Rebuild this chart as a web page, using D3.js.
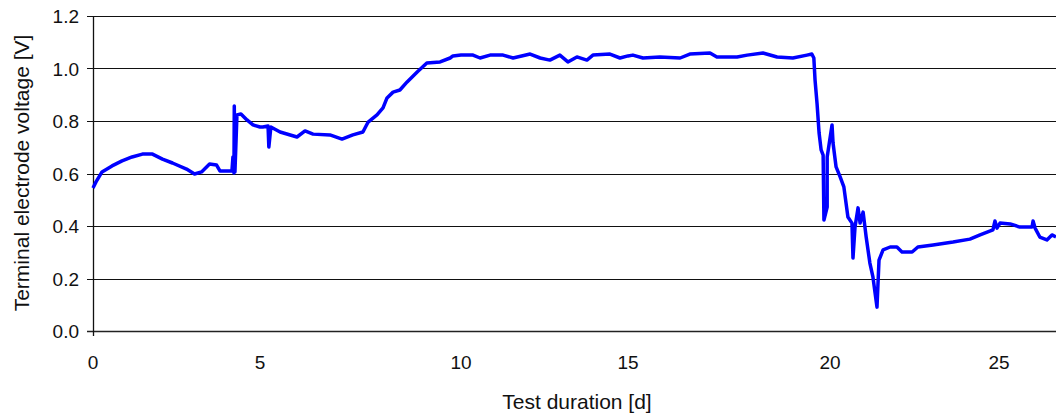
<!DOCTYPE html>
<html>
<head>
<meta charset="utf-8">
<script src="https://cdn.jsdelivr.net/npm/d3@7"></script>
<style>
  body { margin: 0; background: #fff; }
  svg text { font-family: "Liberation Sans", Arial, sans-serif; fill: #111; }
</style>
</head>
<body>
<svg width="1056" height="416"></svg>
<script>
// tick values
const xTicks = [0, 5, 10, 15, 20, 25];
const yTicks = [0, 0.2, 0.4, 0.6, 0.8, 1.0, 1.2];

// test duration [d]
const days = [
  0.00, 0.09, 0.27, 0.57, 0.87, 1.17, 1.48, 1.78, 2.08, 2.38, 2.80, 3.04, 3.25, 3.49, 3.70, 3.80,
  4.16, 4.19, 4.22, 4.23, 4.25, 4.31, 4.43, 4.61, 4.79, 5.00, 5.07, 5.20, 5.22, 5.27, 5.50, 5.92,
  6.12, 6.32, 6.74, 7.04, 7.31, 7.56, 7.69, 7.91, 8.06, 8.16, 8.31, 8.48, 8.66, 8.91, 9.15, 9.48,
  9.73, 9.80, 10.00, 10.36, 10.57, 10.87, 11.26, 11.56, 12.07, 12.37, 12.66, 12.96, 13.20, 13.47,
  13.77, 13.95, 14.46, 14.76, 15.00, 15.12, 15.37, 15.79, 16.29, 16.53, 17.03, 17.20, 17.70, 17.95,
  18.34, 18.69, 19.08, 19.43, 19.55, 19.60, 19.63, 19.68, 19.73, 19.78, 19.83, 19.85, 19.93, 19.93,
  20.06, 20.09, 20.18, 20.30, 20.41, 20.53, 20.65, 20.68, 20.74, 20.83, 20.89, 20.98, 21.07, 21.18,
  21.27, 21.39, 21.45, 21.57, 21.78, 21.98, 22.13, 22.43, 22.60, 23.05, 23.64, 24.14, 24.44, 24.82,
  24.88, 24.94, 25.03, 25.33, 25.62, 25.98, 26.01, 26.07, 26.21, 26.42, 26.57, 26.69
];

// terminal electrode voltage [V]
const volts = [
  0.545, 0.568, 0.606, 0.629, 0.648, 0.663, 0.674, 0.674, 0.655, 0.640, 0.617, 0.598, 0.606, 0.636, 0.632, 0.610,
  0.610, 0.663, 0.602, 0.857, 0.606, 0.823, 0.827, 0.804, 0.785, 0.777, 0.777, 0.781, 0.701, 0.777, 0.758, 0.739,
  0.762, 0.750, 0.747, 0.731, 0.747, 0.758, 0.796, 0.823, 0.850, 0.888, 0.910, 0.918, 0.949, 0.987, 1.021, 1.025,
  1.040, 1.048, 1.051, 1.051, 1.040, 1.051, 1.051, 1.040, 1.055, 1.040, 1.032, 1.051, 1.025, 1.044,
  1.032, 1.051, 1.055, 1.040, 1.048, 1.051, 1.040, 1.044, 1.040, 1.055, 1.059, 1.044, 1.044, 1.051,
  1.059, 1.044, 1.040, 1.051, 1.055, 1.040, 0.956, 0.865, 0.754, 0.690, 0.670, 0.423, 0.472, 0.663,
  0.785, 0.716, 0.625, 0.587, 0.549, 0.434, 0.411, 0.278, 0.396, 0.469, 0.411, 0.453, 0.358, 0.259,
  0.206, 0.091, 0.270, 0.309, 0.320, 0.320, 0.301, 0.301, 0.320, 0.328, 0.339, 0.350, 0.366, 0.385,
  0.419, 0.392, 0.411, 0.408, 0.396, 0.396, 0.419, 0.392, 0.358, 0.347, 0.366, 0.358
];

const data = days.map((d, i) => ({ d: d, v: volts[i] }));

const svg = d3.select('svg');
const W = 1056;
const plotLeft = 93, plotTop = 16, plotBottom = 331;

// the scanned axis is a bit uneven, so the x scale follows the printed tick positions
const x = d3.scaleLinear()
    .domain([0, 5, 10, 15, 20, 25, 26.69])
    .range([plotLeft, 260, 461, 628, 830, 999, W]);
const y = d3.scaleLinear().domain([0, 1.2]).range([plotBottom, plotTop]);

// gridlines + y ticks
svg.append('g')
    .selectAll('line')
    .data(yTicks)
    .enter()
    .append('line')
        .attr('x1', plotLeft - 6)
        .attr('x2', W)
        .attr('y1', d => Math.round(y(d)) + 0.5)
        .attr('y2', d => Math.round(y(d)) + 0.5)
        .style('stroke', d => d === 0 ? '#222' : '#111')
        .style('stroke-width', d => d === 0 ? 1.6 : 1);

// y axis line
svg.append('line')
    .attr('x1', plotLeft + 0.5).attr('x2', plotLeft + 0.5)
    .attr('y1', plotTop).attr('y2', plotBottom + 5)
    .style('stroke', '#111')
    .style('stroke-width', 1.3);

// y tick labels
svg.append('g')
    .selectAll('text')
    .data(yTicks)
    .enter()
    .append('text')
        .attr('x', plotLeft - 14)
        .attr('y', d => y(d) + 7)
        .attr('text-anchor', 'end')
        .style('font-size', '19px')
        .text(d => d3.format('.1f')(d));

// x tick labels
svg.append('g')
    .selectAll('text')
    .data(xTicks)
    .enter()
    .append('text')
        .attr('x', d => x(d))
        .attr('y', 369)
        .attr('text-anchor', 'middle')
        .style('font-size', '19px')
        .text(d => d);

// axis titles
svg.append('text')
    .attr('x', 577)
    .attr('y', 409)
    .attr('text-anchor', 'middle')
    .style('font-size', '21px')
    .text('Test duration [d]');

svg.append('text')
    .attr('transform', 'translate(29,173) rotate(-90)')
    .attr('text-anchor', 'middle')
    .style('font-size', '21px')
    .text('Terminal electrode voltage [V]');

// voltage trace
const line = d3.line()
    .x(p => x(p.d))
    .y(p => y(p.v));

svg.append('path')
    .datum(data)
    .attr('d', line)
    .style('fill', 'none')
    .style('stroke', '#0000ff')
    .style('stroke-width', 3.5)
    .style('stroke-linejoin', 'round');
</script>
</body>
</html>
